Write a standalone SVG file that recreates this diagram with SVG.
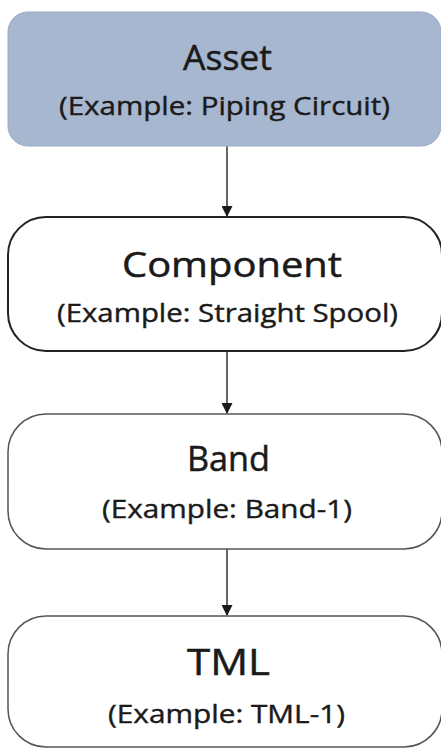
<svg xmlns="http://www.w3.org/2000/svg" width="441" height="748" viewBox="0 0 441 748">
<style>
.t{font-family:"Open Sans","Liberation Sans",sans-serif;fill:#1a1a1a;stroke:#1a1a1a;stroke-width:0.5}
.h{font-size:35px}
.s{font-size:25px;stroke-width:0.4}
.c{stroke:#333;stroke-width:1.5;fill:none}
</style>
<defs>
<marker id="ah" markerWidth="11" markerHeight="11" refX="10" refY="5.5" orient="auto" markerUnits="userSpaceOnUse">
<path d="M0,0 L11,5.5 L0,11 Z" fill="#1a1a1a"/>
</marker>
</defs>
<rect width="441" height="748" fill="#fff"/>
<g id="connectors">
<line class="c" x1="227" y1="146" x2="227" y2="216" marker-end="url(#ah)"/>
<line class="c" x1="227" y1="351" x2="227" y2="413" marker-end="url(#ah)"/>
<line class="c" x1="227" y1="549" x2="227" y2="615" marker-end="url(#ah)"/>
</g>
<g id="asset">
<rect x="8" y="12" width="433" height="134" rx="20" fill="#a7b7cf" stroke="#9aaac2" stroke-width="1"/>
<text class="t h" x="183" y="70" textLength="89" lengthAdjust="spacingAndGlyphs">Asset</text>
<text class="t s" x="59" y="115" textLength="331" lengthAdjust="spacingAndGlyphs">(Example: Piping Circuit)</text>
</g>
<g id="component">
<rect x="8" y="217" width="434" height="134" rx="38" fill="#fff" stroke="#222" stroke-width="2"/>
<text class="t h" x="122" y="277" textLength="220" lengthAdjust="spacingAndGlyphs">Component</text>
<text class="t s" x="57" y="322" textLength="341" lengthAdjust="spacingAndGlyphs">(Example: Straight Spool)</text>
</g>
<g id="band">
<rect x="8" y="414" width="434" height="135" rx="38" fill="#fff" stroke="#555" stroke-width="1.5"/>
<text class="t h" x="187" y="471" textLength="83" lengthAdjust="spacingAndGlyphs">Band</text>
<text class="t s" x="102" y="518" textLength="250" lengthAdjust="spacingAndGlyphs">(Example: Band-1)</text>
</g>
<g id="tml">
<rect x="8" y="616" width="434" height="131" rx="38" fill="#fff" stroke="#555" stroke-width="1.5"/>
<text class="t h" x="187" y="675" textLength="83" lengthAdjust="spacingAndGlyphs" style="font-size:37px">TML</text>
<text class="t s" x="108" y="723" textLength="237" lengthAdjust="spacingAndGlyphs">(Example: TML-1)</text>
</g>
</svg>
